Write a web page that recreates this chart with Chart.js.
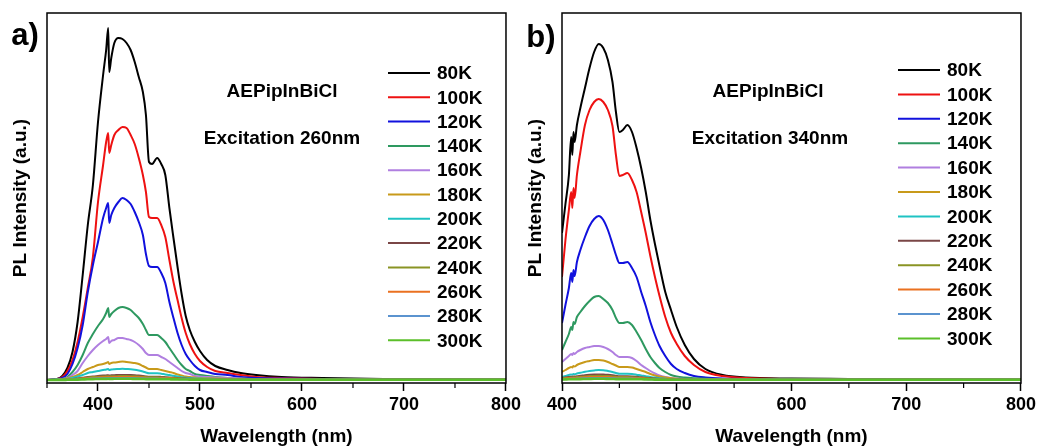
<!DOCTYPE html>
<html>
<head>
<meta charset="utf-8">
<script src="https://cdn.jsdelivr.net/npm/chart.js@4.4.1/dist/chart.umd.min.js"></script>
<style>
  body { margin: 0; background: #fff; }
  #wrap { position: relative; width: 1039px; height: 448px; overflow: hidden; }
  canvas { position: absolute; top: 0; }
</style>
</head>
<body>
<div id="wrap">
  <canvas id="chartA" width="524" height="448" style="left:0"></canvas>
  <canvas id="chartB" width="519" height="448" style="left:520px"></canvas>
</div>
<script>
const temps = ['80K','100K','120K','140K','160K','180K','200K','220K','240K','260K','280K','300K'];
const colors = ['#000000','#ee1111','#1111dd','#2e9960','#b07fe0','#c89a1a',
                '#1fc3c3','#7a4646','#8a9424','#ea7120','#5b93cf','#5bbf2a'];

// excitation 260 nm
const wlA = [350,360,365,370,375,380,385,390,395,400,
             405,408,410,411,413,416,420,424,428,432,
             436,440,444,447,450,453,458,462,466,470,
             474,478,482,486,490,495,500,507,515,527,
             540,555,580,620,680,800];
const pl80A = [0,1,4,12,28,58,105,155,195,258,
               305,330,352,308,322,337,342,341,337,330,
               318,303,288,265,218,216,222,216,205,172,
               142,113,86,64,50,38,29,20,14,10,
               7,5,3,2,1,0.5];
const pl100A = [0,1,3,9,20,38,63,92,123,178,
                215,238,247,227,235,245,250,253,252,245,
                236,222,205,188,163,162,162,155,143,120,
                98,80,62,47,36,26,19,13,9,7,
                5,3,2,1,0.5,0.3];
const pl120A = [0,1,2,6,16,32,55,88,115,138,
                162,172,177,157,165,172,178,182,180,176,
                168,158,145,126,114,113,113,107,97,78,
                62,47,35,26,20,14,10,8,6,5,
                3,2,1.5,1,0.5,0.3];
const pl140A = [0,0.5,1,3,8,15,25,37,46,54,
                61,67,72,63,66,69,72,73,72,70,
                66,62,56,50,45,45,45,42,38,32,
                26,20,15,11,9,6,5,4,3,2,
                1.5,1,1,0.5,0.3,0.2];
const pl160A = [0,0.5,1,2,5,9,17,24,30,35,
                39,41,43,37,39,40,42,42,41,40,
                38,35,31,27,25,25,25,23,21,18,
                15,12,9,7,6,4,3.5,3,2.5,2,
                1.5,1,0.8,0.5,0.3,0.2];
const pl180A = [0,0.3,0.6,1.5,3,5,8,11,13,15,
                16,17,18,16,17,17.5,18,18.5,18,17.5,
                17,16,14,12.5,11,11,11,10,9,8,
                7,5.5,4.5,3.5,3,2.5,2,1.8,1.5,1.2,
                1,0.8,0.6,0.4,0.3,0.2];
const pl200A = [0,0.2,0.5,1,2,3.5,5,7,8,9,
                10,10.5,11,10,10.5,10.8,11,11.2,11,10.8,
                10.3,9.5,8.5,7.5,6.8,6.8,6.8,6.3,5.6,5,
                4.2,3.5,2.8,2.3,2,1.6,1.4,1.2,1,0.9,
                0.8,0.6,0.5,0.4,0.3,0.2];
const pl220A = [0,0.1,0.3,0.6,1,1.6,2.3,3,3.6,4,
                4.4,4.6,4.8,4.5,4.7,4.8,5,5.1,5,4.9,
                4.7,4.4,4,3.6,3.3,3.3,3.3,3.1,2.8,2.5,
                2.2,1.9,1.6,1.4,1.2,1,0.9,0.8,0.7,0.6,
                0.5,0.5,0.4,0.3,0.2,0.2];
const pl240A = [0,0.1,0.2,0.5,0.8,1.3,1.8,2.4,2.9,3.2,
                3.5,3.7,3.8,3.6,3.7,3.8,3.9,4,3.9,3.8,
                3.7,3.5,3.2,2.9,2.7,2.7,2.7,2.5,2.3,2.1,
                1.8,1.6,1.4,1.2,1,0.9,0.8,0.7,0.6,0.5,
                0.5,0.4,0.4,0.3,0.2,0.2];
const pl260A = [0,0.1,0.2,0.4,0.6,1,1.4,1.8,2.2,2.5,
                2.7,2.8,2.9,2.7,2.8,2.9,3,3,3,2.9,
                2.8,2.7,2.5,2.3,2.1,2.1,2.1,2,1.8,1.6,
                1.4,1.2,1.1,0.9,0.8,0.7,0.6,0.5,0.5,0.4,
                0.4,0.3,0.3,0.2,0.2,0.2];
const pl280A = [0,0.1,0.1,0.3,0.4,0.7,1,1.3,1.5,1.7,
                1.8,1.9,2,1.9,1.9,2,2,2.1,2,2,
                1.9,1.8,1.7,1.5,1.4,1.4,1.4,1.3,1.2,1.1,
                1,0.9,0.8,0.7,0.6,0.5,0.5,0.4,0.4,0.3,
                0.3,0.3,0.2,0.2,0.2,0.2];
const pl300A = [0,0.1,0.1,0.2,0.3,0.4,0.6,0.8,0.9,1,
                1.1,1.1,1.2,1.1,1.1,1.2,1.2,1.2,1.2,1.2,
                1.1,1.1,1,0.9,0.9,0.9,0.9,0.8,0.8,0.7,
                0.6,0.6,0.5,0.5,0.4,0.4,0.4,0.3,0.3,0.3,
                0.3,0.3,0.2,0.2,0.2,0.2];

// excitation 340 nm
const wlB = [400,403,406,408,409,410,411,413,416,420,
             424,428,432,436,440,444,447,450,453,457,
             461,465,469,473,477,481,485,490,495,500,
             507,515,525,540,560,600,650,700,800];
const pl80B = [147,176,205,243,225,248,238,255,272,292,
               312,328,336,332,320,298,268,248,250,255,
               248,232,212,188,160,136,114,88,70,53,
               35,21,11,5,2.5,1.5,1,0.5,0.3];
const pl100B = [103,140,170,188,172,192,182,205,228,255,
                270,278,281,278,270,254,225,204,205,207,
                200,188,168,147,124,103,84,63,47,36,
                24,15,8,4,2,1,0.7,0.4,0.3];
const pl120B = [57,75,92,107,98,110,104,118,130,143,
                154,161,164,160,150,136,125,117,117,118,
                112,103,88,74,58,45,34,24,16,11,
                7,4,2.5,1.5,1,0.7,0.5,0.3,0.2];
const pl140B = [30,38,46,53,50,58,56,63,68,74,
                79,83,84,81,77,70,62,57,57,58,
                55,48,40,31,23,17,12,8,5,3.5,
                2.5,1.8,1.2,0.8,0.6,0.4,0.3,0.2,0.2];
const pl160B = [18,21,24,26,25,27,26,28,30,32,
                33,34,34,33,31,28,25,23,23,23,
                22,19,15,12,9,6.5,4.5,3,2,1.5,
                1,0.8,0.6,0.5,0.4,0.3,0.2,0.2,0.2];
const pl180B = [8,10,12,13,12.5,14,13.5,15,16.5,18,
                19,20,20,19.5,18,16,14.5,13,13,13,
                12.5,11,9.5,8,6,4.5,3.5,2.5,1.8,1.3,
                1,0.8,0.6,0.5,0.4,0.3,0.2,0.2,0.2];
const pl200B = [3,4,5,5.5,5.3,6,5.8,6.5,7.2,8.2,
                9,9.6,10,9.8,9,8,7,6.3,6.3,6.3,
                6,5.3,4.5,3.8,3,2.4,1.8,1.3,1,0.8,
                0.6,0.5,0.4,0.3,0.3,0.2,0.2,0.2,0.2];
const pl220B = [2,2.5,3,3.3,3.2,3.5,3.4,3.8,4.2,4.8,
                5.2,5.5,5.6,5.5,5.2,4.7,4.2,3.8,3.8,3.8,
                3.6,3.2,2.8,2.3,1.9,1.5,1.2,0.9,0.7,0.6,
                0.5,0.4,0.3,0.3,0.2,0.2,0.2,0.2,0.2];
const pl240B = [1.5,1.9,2.3,2.5,2.4,2.7,2.6,2.9,3.2,3.6,
                3.9,4.1,4.2,4.1,3.9,3.5,3.2,2.9,2.9,2.9,
                2.7,2.4,2.1,1.8,1.5,1.2,0.9,0.7,0.6,0.5,
                0.4,0.3,0.3,0.2,0.2,0.2,0.2,0.2,0.2];
const pl260B = [1.1,1.4,1.7,1.9,1.8,2,1.9,2.2,2.4,2.7,
                2.9,3,3.1,3,2.9,2.6,2.4,2.2,2.2,2.2,
                2,1.8,1.6,1.3,1.1,0.9,0.7,0.5,0.4,0.4,
                0.3,0.3,0.2,0.2,0.2,0.2,0.2,0.2,0.2];
const pl280B = [0.8,1,1.1,1.2,1.2,1.3,1.3,1.4,1.6,1.8,
                1.9,2,2,2,1.9,1.7,1.6,1.5,1.5,1.5,
                1.4,1.2,1.1,0.9,0.8,0.6,0.5,0.4,0.3,0.3,
                0.2,0.2,0.2,0.2,0.2,0.2,0.2,0.2,0.2];
const pl300B = [0.5,0.6,0.7,0.7,0.7,0.8,0.8,0.9,0.9,1,
                1.1,1.2,1.2,1.2,1.1,1,0.9,0.9,0.9,0.9,
                0.8,0.7,0.7,0.6,0.5,0.4,0.4,0.3,0.3,0.3,
                0.2,0.2,0.2,0.2,0.2,0.2,0.2,0.2,0.2];

const seriesA = [pl80A,pl100A,pl120A,pl140A,pl160A,pl180A,pl200A,pl220A,pl240A,pl260A,pl280A,pl300A];
const seriesB = [pl80B,pl100B,pl120B,pl140B,pl160B,pl180B,pl200B,pl220B,pl240B,pl260B,pl280B,pl300B];

const FONT = '"Liberation Sans", Arial, sans-serif';

// frame, minor ticks, panel letter, notes and the legend list
const panelDecor = {
  id: 'panelDecor',
  afterDraw(chart, args, o) {
    const {ctx, chartArea: a} = chart;
    const x = chart.scales.x;
    ctx.save();
    ctx.strokeStyle = '#000';
    ctx.lineWidth = 1.5;
    ctx.strokeRect(a.left, a.top, a.right - a.left, a.bottom - a.top);

    ctx.lineWidth = 1.2;
    x.ticks.forEach(t => {
      if (t.value % 100 !== 0) {
        const px = x.getPixelForValue(t.value);
        ctx.beginPath();
        ctx.moveTo(px, a.bottom);
        ctx.lineTo(px, a.bottom + 5);
        ctx.stroke();
      }
    });

    ctx.fillStyle = '#000';
    ctx.textAlign = 'center';
    ctx.textBaseline = 'middle';
    ctx.font = 'bold 31px ' + FONT;
    ctx.fillText(o.letter, o.letterX, o.letterY);

    ctx.font = 'bold 19px ' + FONT;
    o.notes.forEach(n => ctx.fillText(n.text, n.x, n.y));

    ctx.textAlign = 'left';
    chart.data.datasets.forEach((ds, i) => {
      const y = o.legendY + i * o.legendStep;
      ctx.strokeStyle = ds.borderColor;
      ctx.lineWidth = 2;
      ctx.beginPath();
      ctx.moveTo(o.legendX, y);
      ctx.lineTo(o.legendX + 42, y);
      ctx.stroke();
      ctx.fillText(ds.label, o.legendX + 49, y + 1);
    });
    ctx.restore();
  }
};

function makePanel(id, wl, series, xMin, yAxisW, yTitlePad, decor) {
  const datasets = series.map((vals, i) => ({
    label: temps[i],
    data: wl.map((w, j) => ({x: w, y: vals[j]})),
    borderColor: colors[i],
    borderWidth: i === series.length - 1 ? 2.6 : 2,
    pointRadius: 0,
    cubicInterpolationMode: 'monotone',
    order: series.length - 1 - i
  }));

  new Chart(document.getElementById(id), {
    type: 'line',
    data: {datasets},
    plugins: [panelDecor],
    options: {
      responsive: false,
      animation: false,
      layout: {padding: {top: 13, right: 18, bottom: 0, left: 0}},
      plugins: {
        legend: {display: false},
        tooltip: {enabled: false},
        panelDecor: decor
      },
      scales: {
        x: {
          type: 'linear',
          min: xMin,
          max: 800,
          afterFit: s => { s.height = 65; },
          border: {display: false},
          grid: {
            drawOnChartArea: false,
            drawTicks: true,
            tickLength: 8,
            tickWidth: 1.5,
            tickColor: c => (c.tick && c.tick.value % 100 === 0) ? '#000' : 'rgba(0,0,0,0)'
          },
          ticks: {
            stepSize: 50,
            maxRotation: 0,
            autoSkip: false,
            padding: 3,
            color: '#000',
            font: {family: FONT, size: 18, weight: 'bold'},
            callback: v => (v % 100 === 0 ? String(v) : '')
          },
          title: {
            display: true,
            text: 'Wavelength (nm)',
            color: '#000',
            padding: {top: 0, bottom: 0},
            font: {family: FONT, size: 19, weight: 'bold'}
          }
        },
        y: {
          min: -3,
          max: 367,
          afterFit: s => { s.width = yAxisW; },
          border: {display: false},
          grid: {display: false},
          ticks: {display: false},
          title: {
            display: true,
            text: 'PL Intensity (a.u.)',
            color: '#000',
            padding: {top: yTitlePad, bottom: 0},
            font: {family: FONT, size: 19, weight: 'bold'}
          }
        }
      }
    }
  });
}

makePanel('chartA', wlA, seriesA, 350, 47, 9, {
  letter: 'a)', letterX: 25, letterY: 36,
  notes: [
    {text: 'AEPipInBiCl', x: 282, y: 92},
    {text: 'Excitation 260nm', x: 282, y: 139}
  ],
  legendX: 388, legendY: 73, legendStep: 24.3
});

makePanel('chartB', wlB, seriesB, 400, 42, 4, {
  letter: 'b)', letterX: 21, letterY: 38,
  notes: [
    {text: 'AEPipInBiCl', x: 248, y: 92},
    {text: 'Excitation 340nm', x: 250, y: 139}
  ],
  legendX: 378, legendY: 70, legendStep: 24.4
});
</script>
</body>
</html>
